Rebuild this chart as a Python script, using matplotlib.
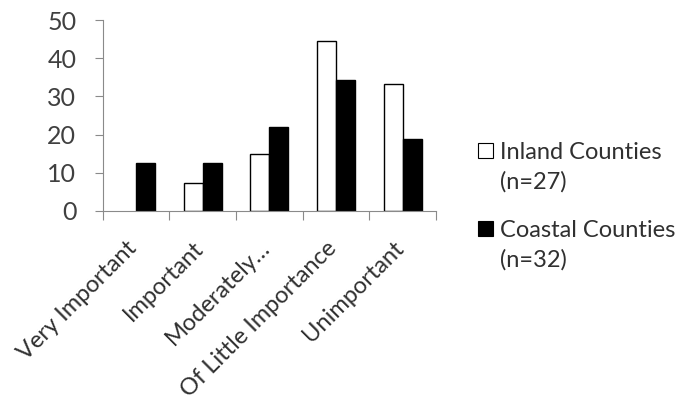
import matplotlib
matplotlib.use("Agg")
import matplotlib.pyplot as plt
import matplotlib.transforms as mtransforms
import numpy as np
from matplotlib.patches import Rectangle

categories = ["Very Important", "Important", "Moderately\u2026", "Of Little Importance", "Unimportant"]
inland = [0, 7.4, 14.8, 44.4, 33.3]
coastal = [12.5, 12.5, 21.9, 34.4, 18.8]
series_names = ["Inland Counties", "Coastal Counties"]
series_n = ["(n=27)", "(n=32)"]
yticks = [0, 10, 20, 30, 40, 50]

plt.rcParams['font.family'] = ['Lato', 'DejaVu Sans']

fig = plt.figure(figsize=(6.8, 4.0), dpi=100)
ax = fig.add_axes([0.151, 0.4725, 0.49, 0.4775])

x = np.arange(len(categories))
w = 0.285
inland_edges = ["black" if v > 0 else "none" for v in inland]
ax.bar(x - w / 2, inland, w, color="white", edgecolor=inland_edges, linewidth=1.0)
ax.bar(x + w / 2, coastal, w, color="black", edgecolor="black", linewidth=1.0)

ax.set_xlim(-0.5, len(categories) - 0.5)
ax.set_ylim(0, 50)
ax.set_yticks(yticks)
ax.set_yticklabels([str(t) for t in yticks])

ax.set_xticks(np.arange(-0.5, len(categories), 1.0))
ax.set_xticklabels([])

# category labels, rotated, anchored at top-right near the category centre
offset = mtransforms.ScaledTranslation(-10 / 100, -26 / 100, fig.dpi_scale_trans)
lbl_tr = ax.get_xaxis_transform() + offset
for xi, cat in zip(x, categories):
    ax.text(xi, 0, cat, transform=lbl_tr, rotation=45, rotation_mode="anchor",
            ha="right", va="top", fontsize=17, color="#303030", clip_on=False)

gray = "#8a8a8a"
for s in ["top", "right"]:
    ax.spines[s].set_visible(False)
ax.spines["left"].set_color(gray)
ax.spines["bottom"].set_color(gray)
ax.tick_params(axis="y", which="major", direction="out", length=6, color=gray,
               labelsize=18, labelcolor="#404040", pad=13)
ax.tick_params(axis="x", which="major", direction="out", length=6.5, color=gray)

# legend (manual, handle aligned with first line); positions in pixels of 680x400
H = 400.0
Wf = 680.0
leg_fc = ["white", "black"]
leg_base = [159, 237]
for fc, name, n, yb in zip(leg_fc, series_names, series_n, leg_base):
    fig.patches.append(Rectangle((478 / Wf, 1 - (yb - 1) / H), 15 / Wf, 15 / H,
                                 transform=fig.transFigure, facecolor=fc,
                                 edgecolor="black", linewidth=0.8))
    fig.text(500 / Wf, 1 - yb / H, name, fontsize=17, color="#303030",
             va="baseline", ha="left")
    fig.text(500 / Wf, 1 - (yb + 30) / H, n, fontsize=17, color="#303030",
             va="baseline", ha="left")

fig.savefig("out.png", dpi=100, facecolor="white")
